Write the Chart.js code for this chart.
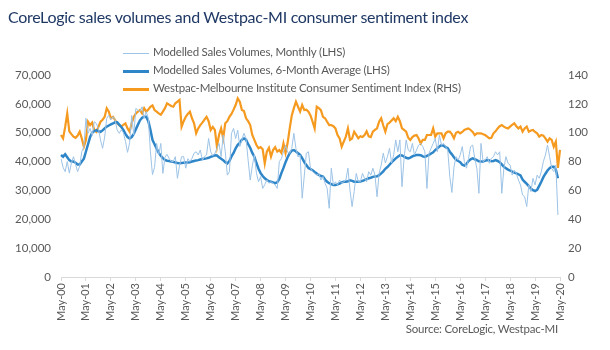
<!DOCTYPE html>
<html>
<head>
<meta charset="utf-8">
<script src="https://cdn.jsdelivr.net/npm/chart.js@4.4.1/dist/chart.umd.min.js"></script>
<style>
    body { margin: 0; background: #fff; }
    #wrap { position: relative; width: 610px; height: 350px; font-family: Lato, 'Open Sans', sans-serif; }
    #chart { position: absolute; left: 0; top: 0; }
    #title { position: absolute; left: 8px; top: 7px; font-size: 16px; letter-spacing: -0.3px; color: #1f3864; white-space: nowrap; }
    .leg { position: absolute; left: 123px; font-size: 11.5px; letter-spacing: -0.2px; color: #595959; white-space: nowrap; line-height: 14px; }
    .leg span { display: inline-block; width: 26px; vertical-align: middle; margin-right: 4px; }
    #source { position: absolute; right: 52px; top: 322px; font-size: 11.5px; letter-spacing: -0.2px; color: #595959; white-space: nowrap; }
</style>
</head>
<body>
<div id="wrap">
    <canvas id="chart" width="610" height="350"></canvas>
    <div id="title">CoreLogic sales volumes and Westpac-MI consumer sentiment index</div>
    <div class="leg" style="top:45px"><span style="border-top:1px solid #9dc3e6"></span>Modelled Sales Volumes, Monthly (LHS)</div>
    <div class="leg" style="top:63px"><span style="border-top:3px solid #2e86c8"></span>Modelled Sales Volumes, 6-Month Average (LHS)</div>
    <div class="leg" style="top:81px"><span style="border-top:3px solid #f59a1f"></span>Westpac-Melbourne Institute Consumer Sentiment Index (RHS)</div>
    <div id="source">Source: CoreLogic, Westpac-MI</div>
</div>
<script>
// monthly, May-00 .. Apr-20 (thousands)
const salesMonthly = [
    41.0, 38.0, 36.5, 40.0, 36.0, 39.5, 41.7, 39.0, 36.5, 38.5,
    43.4, 45.2, 55.0, 49.8, 51.5, 49.0, 53.8, 53.2, 51.5, 47.5,
    44.6, 48.5, 55.0, 56.0, 54.5, 55.6, 54.5, 51.0, 49.8, 51.0,
    50.0, 47.0, 43.2, 46.5, 56.0, 49.2, 58.4, 57.8, 57.3, 59.0,
    55.0, 57.3, 55.0, 43.4, 35.5, 38.0, 46.3, 42.3, 46.3, 35.9,
    41.5, 42.5, 41.1, 40.0, 40.0, 41.7, 34.2, 38.5, 41.7, 41.7,
    37.7, 41.0, 40.0, 41.1, 42.9, 43.4, 42.3, 44.0, 40.5, 41.7,
    42.3, 48.0, 43.4, 42.0, 42.8, 44.5, 46.3, 41.7, 49.2, 43.4,
    35.3, 36.5, 49.8, 51.5, 48.0, 50.9, 45.2, 47.5, 49.8, 48.0,
    40.5, 33.6, 38.5, 42.3, 36.0, 33.0, 34.8, 30.7, 32.0, 33.6,
    32.5, 33.0, 32.5, 31.9, 30.7, 40.0, 41.0, 43.4, 45.7, 43.2,
    42.9, 44.6, 49.8, 44.5, 41.6, 42.3, 27.3, 35.0, 42.9, 43.4,
    37.7, 36.5, 35.9, 35.3, 35.9, 33.6, 34.8, 32.5, 30.7, 23.8,
    37.7, 31.9, 33.0, 31.9, 33.6, 32.5, 33.0, 33.6, 37.7, 30.0,
    24.4, 29.6, 35.9, 33.0, 33.0, 35.9, 34.2, 33.0, 36.5, 35.3,
    37.7, 35.3, 27.8, 35.9, 38.8, 42.9, 39.5, 41.7, 44.6, 39.5,
    42.3, 47.5, 43.4, 47.5, 31.3, 41.1, 47.5, 44.0, 43.4, 46.3,
    42.3, 44.0, 45.7, 46.3, 45.2, 43.4, 30.7, 42.9, 44.6, 46.3,
    48.0, 43.4, 49.2, 45.7, 46.3, 45.2, 44.0, 34.8, 29.3, 38.0,
    41.7, 40.5, 42.3, 45.2, 40.0, 37.7, 41.1, 45.2, 45.7, 41.1,
    37.7, 29.0, 46.3, 40.0, 40.5, 41.7, 39.4, 41.1, 41.7, 43.4,
    42.3, 43.4, 29.0, 37.7, 41.7, 39.4, 38.8, 35.3, 37.0, 35.9,
    33.6, 31.9, 28.4, 27.8, 24.4, 31.9, 29.6, 34.2, 31.9, 35.3,
    34.2, 36.5, 40.0, 42.3, 45.7, 41.7, 37.7, 36.5, 38.8, 21.5,
];

const salesAvg6m = [
    42.3, 41.7, 42.5, 41.5, 40.5, 40.0, 40.0, 39.6, 39.0, 39.0,
    40.0, 41.0, 43.5, 46.0, 48.5, 50.0, 50.6, 50.9, 50.5, 50.3,
    50.8, 51.5, 52.1, 52.5, 52.9, 53.2, 53.6, 53.6, 52.8, 52.0,
    51.0, 49.6, 48.5, 48.0, 48.5, 49.6, 51.2, 52.8, 54.3, 55.2,
    55.5, 55.5, 54.0, 51.0, 47.5, 46.0, 44.5, 43.0, 42.0, 41.2,
    40.6, 40.3, 40.2, 40.0, 39.9, 39.7, 39.5, 39.4, 39.5, 39.6,
    39.7, 39.7, 39.8, 40.0, 40.2, 40.4, 40.5, 40.7, 40.9, 41.0,
    41.1, 41.3, 41.6, 41.9, 42.2, 42.1, 41.5, 41.0, 40.5, 39.8,
    39.4, 40.2, 41.8, 43.0, 44.6, 45.8, 46.5, 47.6, 48.0, 47.6,
    46.0, 44.8, 43.0, 41.7, 39.5, 37.5, 36.0, 35.0, 34.2, 33.6,
    33.2, 33.0, 32.8, 32.5, 32.8, 34.0, 36.0, 37.8, 39.8, 41.5,
    42.9, 43.8, 44.0, 43.5, 42.9, 42.3, 41.2, 39.8, 38.8, 37.8,
    37.4, 37.0, 36.4, 35.9, 35.4, 35.0, 34.8, 33.8, 33.0, 32.5,
    32.2, 31.9, 31.9, 32.1, 32.4, 32.8, 33.0, 33.0, 33.2, 33.5,
    33.3, 33.0, 33.0, 33.0, 33.1, 33.3, 33.6, 33.9, 34.2, 34.4,
    34.7, 34.8, 34.9, 35.3, 35.9, 36.6, 37.5, 38.1, 38.9, 39.7,
    40.4, 41.1, 41.7, 42.2, 42.1, 41.7, 41.3, 41.1, 41.4, 41.8,
    42.1, 42.3, 42.3, 42.2, 41.8, 41.6, 42.0, 42.3, 42.8, 43.2,
    44.0, 44.6, 45.2, 45.7, 45.5, 45.0, 44.6, 43.4, 42.5, 41.5,
    40.6, 40.2, 39.8, 38.9, 38.6, 39.2, 40.2, 40.8, 41.1, 40.8,
    40.5, 40.1, 40.0, 40.0, 40.3, 40.5, 40.4, 40.1, 40.2, 40.5,
    40.2, 39.8, 39.0, 38.2, 37.7, 37.2, 36.9, 36.5, 36.2, 35.9,
    35.6, 35.2, 33.8, 33.0, 32.3, 31.5, 30.6, 30.1, 29.8, 30.2,
    31.6, 33.0, 34.6, 35.8, 36.9, 37.7, 38.2, 38.2, 37.2, 34.2,
];

// monthly index, May-00 .. May-20
const sentiment = [
    98.4, 96.0, 104.0, 113.4, 101.0, 99.0, 97.3, 96.5, 98.0, 100.7,
    96.0, 90.3, 95.0, 107.6, 105.3, 107.0, 101.8, 100.5, 104.0, 107.6,
    109.0, 111.0, 116.9, 114.6, 110.0, 111.0, 108.8, 106.5, 105.3, 104.2,
    105.5, 106.5, 103.0, 100.7, 106.5, 111.0, 113.4, 114.6, 115.7, 113.4,
    117.0, 114.6, 116.0, 118.0, 119.0, 115.7, 114.6, 113.4, 112.5, 114.6,
    117.0, 120.4, 119.5, 118.5, 118.0, 120.4, 121.5, 122.7, 104.2, 108.0,
    111.0, 113.0, 114.6, 110.0, 106.5, 99.6, 103.0, 105.3, 107.0, 109.0,
    111.0, 108.0, 101.9, 104.0, 102.0, 90.3, 98.4, 103.0, 96.1, 106.5,
    108.0, 111.0, 113.0, 116.0, 119.2, 123.8, 121.5, 115.7, 115.0, 110.0,
    108.0, 105.3, 98.4, 95.0, 91.5, 89.2, 90.0, 88.5, 78.8, 86.9,
    89.5, 83.4, 88.0, 90.0, 86.9, 88.0, 86.0, 92.6, 86.0, 93.0,
    103.0, 112.0, 117.0, 121.5, 118.0, 114.6, 119.2, 115.7, 116.0, 114.6,
    112.0, 107.6, 103.0, 118.0, 117.0, 115.7, 111.0, 110.0, 107.6, 105.3,
    105.3, 104.5, 103.0, 98.4, 96.1, 90.3, 93.8, 97.3, 103.0, 95.0,
    96.0, 100.7, 98.5, 96.1, 97.5, 97.0, 98.4, 101.0, 97.5, 97.0,
    100.7, 102.0, 103.0, 107.6, 110.0, 105.0, 100.7, 106.0, 107.0, 108.5,
    110.0, 108.0, 111.0, 108.0, 103.0, 102.0, 100.7, 96.5, 95.0, 97.0,
    98.0, 98.4, 96.0, 92.6, 95.0, 95.0, 98.4, 98.4, 98.4, 103.0,
    97.3, 99.6, 99.6, 99.6, 96.1, 99.6, 100.7, 100.7, 99.0, 96.1,
    100.0, 100.7, 99.6, 100.5, 101.9, 102.5, 103.0, 101.9, 100.5, 98.4,
    99.6, 99.6, 99.6, 99.0, 98.4, 97.3, 96.1, 96.5, 99.6, 101.0,
    103.0, 104.5, 105.3, 104.2, 103.5, 103.0, 104.2, 105.5, 106.5, 104.5,
    103.0, 104.2, 100.7, 103.0, 104.2, 100.7, 101.5, 101.9, 100.5, 99.6,
    97.3, 98.4, 98.0, 96.1, 93.8, 96.1, 95.0, 90.3, 93.8, 75.6,
    88.1,
];

const monthNames = ['Jan', 'Feb', 'Mar', 'Apr', 'May', 'Jun', 'Jul', 'Aug', 'Sep', 'Oct', 'Nov', 'Dec'];
const startYear = 2000;
const startMonth = 4; // May

const months = [];
for (let i = 0; i < sentiment.length; i++) {
    const m = (startMonth + i) % 12;
    const y = startYear + Math.floor((startMonth + i) / 12);
    months.push(`${monthNames[m]}-${String(y % 100).padStart(2, '0')}`);
}

const axisFont = { family: 'Lato, sans-serif', size: 11.5 };
const axisColor = '#595959';

new Chart(document.getElementById('chart').getContext('2d'), {
    type: 'line',
    data: {
        labels: months,
        datasets: [
            {
                label: 'Modelled Sales Volumes, Monthly (LHS)',
                data: salesMonthly.map(v => v * 1000),
                borderColor: '#9dc3e6',
                borderWidth: 1,
                pointRadius: 0,
                yAxisID: 'y',
            },
            {
                label: 'Modelled Sales Volumes, 6-Month Average (LHS)',
                data: salesAvg6m.map(v => v * 1000),
                borderColor: '#2e86c8',
                borderWidth: 2.5,
                pointRadius: 0,
                yAxisID: 'y',
            },
            {
                label: 'Westpac-Melbourne Institute Consumer Sentiment Index (RHS)',
                data: sentiment,
                borderColor: '#f59a1f',
                borderWidth: 2.2,
                pointRadius: 0,
                yAxisID: 'y1',
            },
        ],
    },
    options: {
        responsive: false,
        animation: false,
        layout: { padding: { top: 75, right: 0, bottom: 0, left: 0 } },
        plugins: { legend: { display: false }, tooltip: { enabled: false } },
        scales: {
            x: {
                offset: false,
                grid: {
                    drawOnChartArea: false,
                    drawTicks: true,
                    tickLength: 4,
                    color: c => (c.index % 12 === 0 ? '#d9d9d9' : 'rgba(0,0,0,0)'),
                },
                border: { color: '#d9d9d9' },
                ticks: {
                    autoSkip: false,
                    minRotation: 90,
                    maxRotation: 90,
                    padding: 2,
                    font: { family: 'Lato, sans-serif', size: 11 },
                    color: axisColor,
                    callback: (v, i) => (i % 12 === 0 ? months[i] : ''),
                },
                afterFit: s => { s.height = 73; },
            },
            y: {
                position: 'left',
                min: 0,
                max: 70000,
                grid: { display: false, drawTicks: false },
                border: { display: false },
                ticks: {
                    stepSize: 10000,
                    padding: 10,
                    font: axisFont,
                    color: axisColor,
                    callback: v => v.toLocaleString('en-US'),
                },
                afterFit: s => { s.width = 61; },
            },
            y1: {
                position: 'right',
                min: 0,
                max: 140,
                grid: { display: false, drawTicks: false },
                border: { display: false },
                ticks: { stepSize: 20, padding: 8, font: axisFont, color: axisColor },
                afterFit: s => { s.width = 50; },
            },
        },
    },
});
</script>
</body>
</html>
